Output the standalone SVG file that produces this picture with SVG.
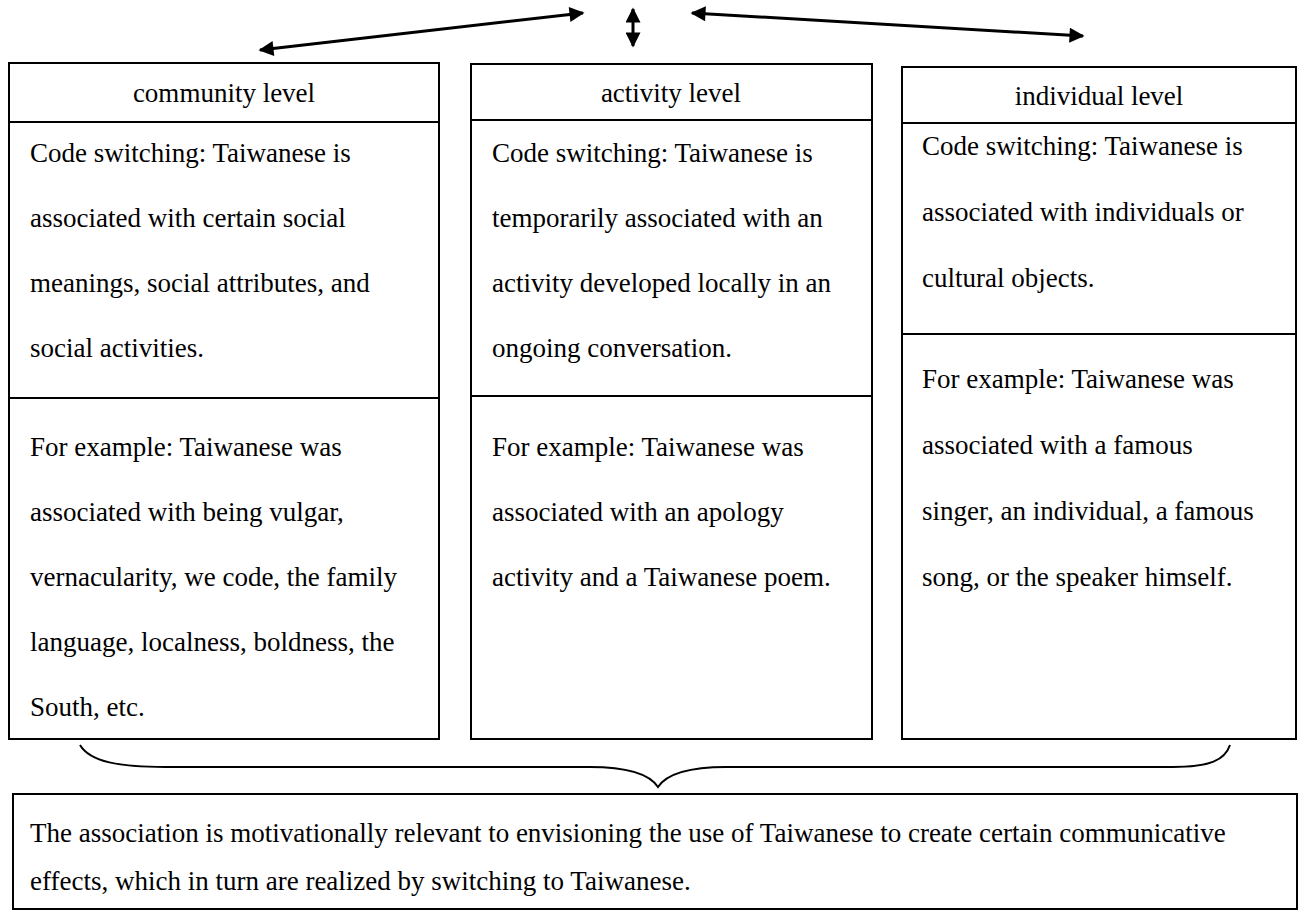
<svg xmlns="http://www.w3.org/2000/svg" width="1302" height="911" viewBox="0 0 1302 911">
  <defs>
    <marker id="head" viewBox="0 0 10 10" refX="9" refY="5" markerWidth="5.5" markerHeight="5" markerUnits="strokeWidth" orient="auto-start-reverse">
      <path d="M0,0 L10,5 L0,10 z" fill="#000"/>
    </marker>
    <style>
      .box { fill: #fff; stroke: #000; stroke-width: 2; }
      .sep { stroke: #000; stroke-width: 2; }
      .t { font-family: "Liberation Serif", "Times New Roman", serif; font-size: 27px; fill: #000; }
      .title { text-anchor: middle; }
      .arrow { stroke: #000; stroke-width: 3; fill: none; marker-start: url(#head); marker-end: url(#head); }
      .brace { stroke: #000; stroke-width: 2; fill: none; }
    </style>
  </defs>
  <rect width="1302" height="911" fill="#fff"/>

  <!-- double-headed links between the three levels, and the brace gathering them -->
  <g id="connectors">
    <line class="arrow" x1="260" y1="50" x2="583" y2="13"/>
    <line class="arrow" x1="633" y1="9" x2="633" y2="46"/>
    <line class="arrow" x1="692" y1="13" x2="1083" y2="36"/>
    <path class="brace" d="M80,745 C90,762 120,767 165,767 L590,767 C630,767 650,775 658,787 C666,775 686,767 726,767 L1173,767 C1210,767 1225,760 1230,745"/>
  </g>

  <!-- community level -->
  <g id="community">
    <rect class="box" x="9" y="63" width="430" height="676"/>
    <line class="sep" x1="9" y1="122" x2="439" y2="122"/>
    <line class="sep" x1="9" y1="398" x2="439" y2="398"/>
    <text class="t title" x="224" y="102">community level</text>
    <text class="t" x="30" y="162">Code switching: Taiwanese is</text>
    <text class="t" x="30" y="227">associated with certain social</text>
    <text class="t" x="30" y="292">meanings, social attributes, and</text>
    <text class="t" x="30" y="357">social activities.</text>
    <text class="t" x="30" y="456">For example: Taiwanese was</text>
    <text class="t" x="30" y="521">associated with being vulgar,</text>
    <text class="t" x="30" y="586">vernacularity, we code, the family</text>
    <text class="t" x="30" y="651">language, localness, boldness, the</text>
    <text class="t" x="30" y="716">South, etc.</text>
  </g>

  <!-- activity level -->
  <g id="activity">
    <rect class="box" x="471" y="64" width="401" height="675"/>
    <line class="sep" x1="471" y1="120" x2="872" y2="120"/>
    <line class="sep" x1="471" y1="396" x2="872" y2="396"/>
    <text class="t title" x="671" y="102">activity level</text>
    <text class="t" x="492" y="162">Code switching: Taiwanese is</text>
    <text class="t" x="492" y="227">temporarily associated with an</text>
    <text class="t" x="492" y="292">activity developed locally in an</text>
    <text class="t" x="492" y="357">ongoing conversation.</text>
    <text class="t" x="492" y="456">For example: Taiwanese was</text>
    <text class="t" x="492" y="521">associated with an apology</text>
    <text class="t" x="492" y="586">activity and a Taiwanese poem.</text>
  </g>

  <!-- individual level -->
  <g id="individual">
    <rect class="box" x="902" y="67" width="394" height="672"/>
    <line class="sep" x1="902" y1="123" x2="1296" y2="123"/>
    <line class="sep" x1="902" y1="334" x2="1296" y2="334"/>
    <text class="t title" x="1099" y="105">individual level</text>
    <text class="t" x="922" y="155">Code switching: Taiwanese is</text>
    <text class="t" x="922" y="221">associated with individuals or</text>
    <text class="t" x="922" y="287">cultural objects.</text>
    <text class="t" x="922" y="388">For example: Taiwanese was</text>
    <text class="t" x="922" y="454">associated with a famous</text>
    <text class="t" x="922" y="520">singer, an individual, a famous</text>
    <text class="t" x="922" y="586">song, or the speaker himself.</text>
  </g>

  <!-- shared conclusion -->
  <g id="conclusion">
    <rect class="box" x="13" y="794" width="1284" height="115"/>
    <text class="t" x="30" y="842">The association is motivationally relevant to envisioning the use of Taiwanese to create certain communicative</text>
    <text class="t" x="30" y="890">effects, which in turn are realized by switching to Taiwanese.</text>
  </g>
</svg>
